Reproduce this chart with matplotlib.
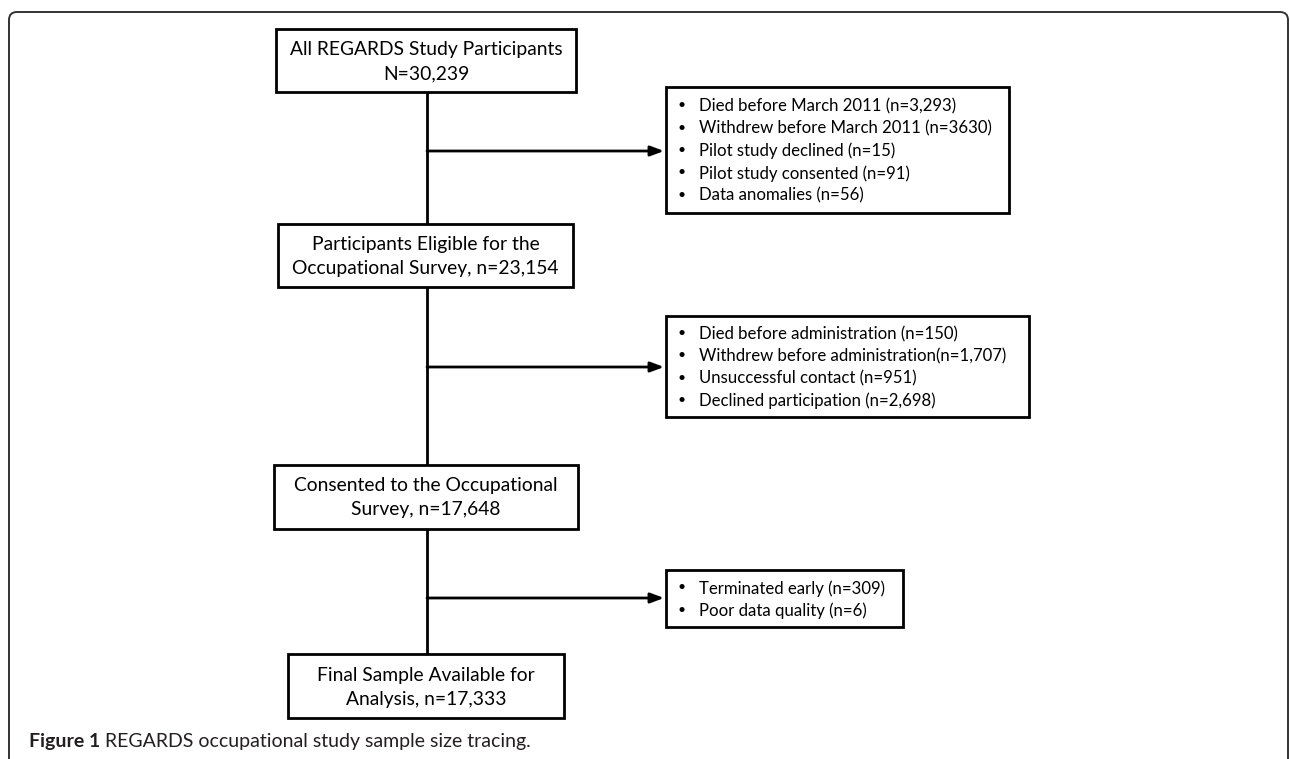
import matplotlib
matplotlib.use("Agg")
import matplotlib.pyplot as plt
from matplotlib.patches import Rectangle, FancyBboxPatch

plt.rcParams['font.family'] = ['Lato', 'DejaVu Sans']

# Flow stages (main column)
stage_labels = [
    ["All REGARDS Study Participants", "N=30,239"],
    ["Participants Eligible for the", "Occupational Survey, n=23,154"],
    ["Consented to the Occupational", "Survey, n=17,648"],
    ["Final Sample Available for", "Analysis, n=17,333"],
]

# Exclusions between stages
exclusions = [
    ["Died before March 2011 (n=3,293)",
     "Withdrew before March 2011 (n=3630)",
     "Pilot study declined (n=15)",
     "Pilot study consented (n=91)",
     "Data anomalies (n=56)"],
    ["Died before administration (n=150)",
     "Withdrew before administration(n=1,707)",
     "Unsuccessful contact (n=951)",
     "Declined participation (n=2,698)"],
    ["Terminated early (n=309)",
     "Poor data quality (n=6)"],
]

caption_bold = "Figure 1"
caption_rest = "REGARDS occupational study sample size tracing."

# layout in pixel coordinates (x0, y0, x1, y1)
stage_boxes = [(276, 29, 576, 92), (278, 224, 573, 287),
               (274, 465, 578, 529), (288, 654, 564, 718)]
excl_boxes = [(666, 87, 1009, 213), (666, 316, 1029, 417), (666, 570, 903, 627)]
arrow_y = [151, 367, 598]
spine_x = 427
line_gap = 22.3
stage_fs = 13.9
excl_fs = 12.1
caption_fs = 14

W, H = 1290, 759
fig = plt.figure(figsize=(W / 100, H / 100), dpi=100)
ax = fig.add_axes([0, 0, 1, 1])
ax.set_xlim(0, W)
ax.set_ylim(H, 0)
ax.axis('off')

# outer frame, open at the bottom
frame = FancyBboxPatch((9, 12), 1279, 800, boxstyle="round,pad=0,rounding_size=8",
                       fill=False, lw=1.4, edgecolor="#333333", clip_on=True)
ax.add_patch(frame)

# spine connecting the stages
for (a, b) in zip(stage_boxes[:-1], stage_boxes[1:]):
    ax.plot([spine_x, spine_x], [a[3], b[1]], color="black", lw=2, solid_capstyle="butt")

for (x0, y0, x1, y1), lines in zip(stage_boxes, stage_labels):
    ax.add_patch(Rectangle((x0, y0), x1 - x0, y1 - y0, fill=False, lw=2,
                           edgecolor="black"))
    cy = (y0 + y1) / 2
    cx = (x0 + x1) / 2
    ax.text(cx, cy - 11, lines[0], ha="center", va="center", fontsize=stage_fs)
    ax.text(cx, cy + 13, lines[1], ha="center", va="center", fontsize=stage_fs)

for (x0, y0, x1, y1), items, ay in zip(excl_boxes, exclusions, arrow_y):
    ax.add_patch(Rectangle((x0, y0), x1 - x0, y1 - y0, fill=False, lw=2,
                           edgecolor="black"))
    ax.annotate("", xy=(x0 - 2, ay), xytext=(spine_x, ay),
                arrowprops=dict(arrowstyle="-|>,head_length=0.8,head_width=0.3",
                                color="black", lw=2, shrinkA=0, shrinkB=0))
    n = len(items)
    cy = (y0 + y1) / 2
    for i, item in enumerate(items):
        ty = cy + (i - (n - 1) / 2) * line_gap
        ax.text(x0 + 16, ty, "\u2022", ha="center", va="center", fontsize=10)
        ax.text(x0 + 33, ty + 1, item, ha="left", va="center", fontsize=excl_fs)

# caption: bold label then plain text
t1 = ax.text(29, 741, caption_bold, ha="left", va="center", fontsize=caption_fs,
             fontweight="bold", color="#231f20")
fig.canvas.draw()
bb = t1.get_window_extent()
x_end = ax.transData.inverted().transform((bb.x1, bb.y0))[0]
ax.text(x_end + 5, 741, caption_rest, ha="left", va="center", fontsize=caption_fs,
        color="#231f20")

fig.savefig("out.png", dpi=100)
